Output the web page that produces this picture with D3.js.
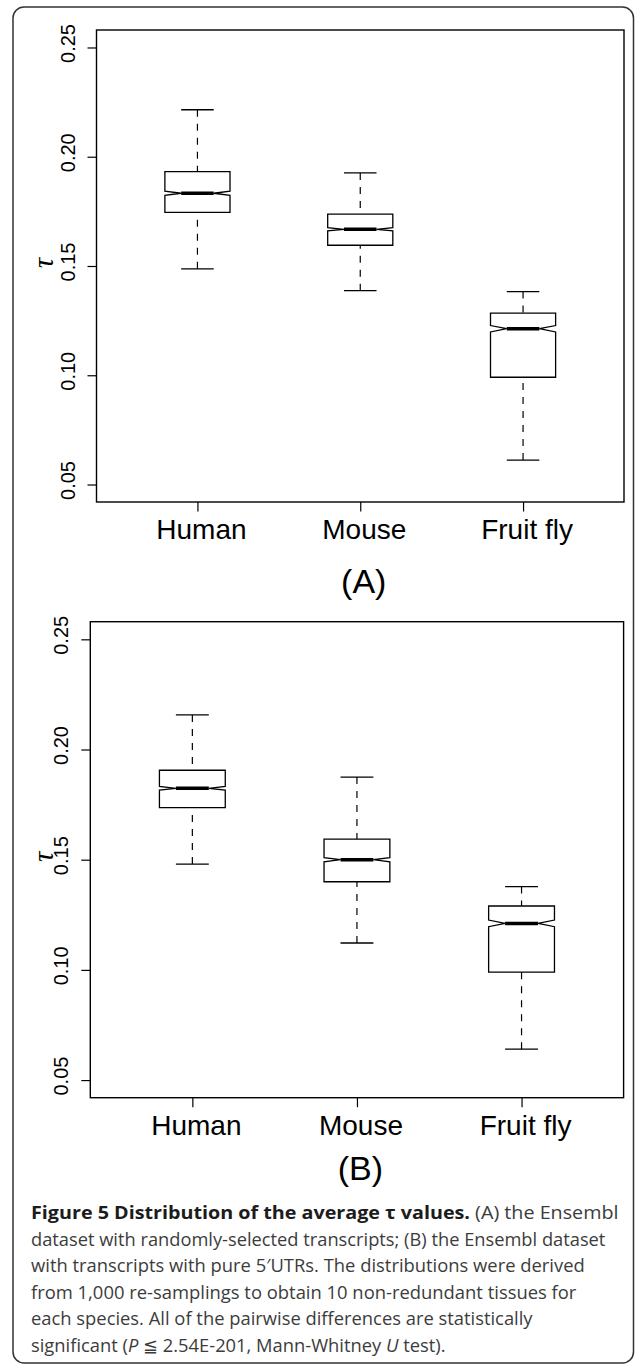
<!DOCTYPE html>
<html>
<head>
<meta charset="utf-8">
<script src="https://cdn.jsdelivr.net/npm/d3@7"></script>
<style>
  html, body { margin: 0; padding: 0; background: #fff; }
  svg { display: block; }
</style>
</head>
<body>
<div id="figure"></div>
<script>
const categories = ['Human', 'Mouse', 'Fruit fly'];
const panelLabels = ['(A)', '(B)'];
const yTicks = [0.05, 0.10, 0.15, 0.20, 0.25];
const yLimits = [0.05, 0.25];
const nResamplings = 1000;

// [lower whisker, Q1, median, Q3, upper whisker]
const statsA = [
  [0.1487, 0.1745, 0.1833, 0.1932, 0.2215],
  [0.1387, 0.1595, 0.1668, 0.1737, 0.1926],
  [0.0612, 0.0991, 0.1213, 0.1284, 0.1383]
];
const statsB = [
  [0.1480, 0.1736, 0.1824, 0.1906, 0.2157],
  [0.1122, 0.1400, 0.1500, 0.1593, 0.1875],
  [0.0640, 0.0990, 0.1211, 0.1290, 0.1378]
];

const captionLines = [
  [{ t: 'Figure 5 Distribution of the average \u03c4 values.', b: true }, { t: ' (A) the Ensembl' }],
  [{ t: 'dataset with randomly-selected transcripts; (B) the Ensembl dataset' }],
  [{ t: 'with transcripts with pure 5\u2032UTRs. The distributions were derived' }],
  [{ t: 'from 1,000 re-samplings to obtain 10 non-redundant tissues for' }],
  [{ t: 'each species. All of the pairwise differences are statistically' }],
  [{ t: 'significant (' }, { t: 'P', i: true }, { t: ' \u2266 2.54E-201, Mann-Whitney ' }, { t: 'U', i: true }, { t: ' test).' }]
];

const Figure = {
  width: 637,
  height: 1366,
  axisFont: '"Liberation Sans", Arial, Helvetica, sans-serif',
  captionFont: '"Open Sans", "Noto Sans", sans-serif',

  panels: [
    { stats: statsA, label: panelLabels[0], left: 96.5, right: 624, top: 30, bottom: 502, labelY: 593 },
    { stats: statsB, label: panelLabels[1], left: 90.3, right: 623.6, top: 621.7, bottom: 1097.7, labelY: 1180 }
  ],

  caption: { left: 31, firstBaseline: 1219, lineHeight: 26.5, widths: [588, 575, 554, 546, 502, 416] },

  renderPanel(svg, panel) {
    const pad = (yLimits[1] - yLimits[0]) * 0.04;
    const y = d3.scaleLinear()
      .domain([yLimits[0] - pad, yLimits[1] + pad])
      .range([panel.bottom, panel.top]);

    const x = d3.scalePoint()
      .domain(categories)
      .range([panel.left, panel.right])
      .padding(0.62);

    const step = x.step();
    const hw = step * 0.2;
    const nw = hw / 2;
    const sw = step * 0.1;

    const g = svg.append('g');

    // y axis
    const yAxis = g.append('g')
      .attr('transform', `translate(${panel.left},0)`)
      .call(d3.axisLeft(y).tickValues(yTicks).tickSize(9).tickFormat(d3.format('.2f')));
    yAxis.select('.domain').remove();
    yAxis.selectAll('line').attr('stroke', '#000').attr('stroke-width', 1.2);
    yAxis.selectAll('text')
      .attr('transform', 'rotate(-90)')
      .attr('x', 4.5)
      .attr('y', -22)
      .attr('dy', 0)
      .attr('text-anchor', 'middle')
      .attr('fill', '#000')
      .style('font-family', this.axisFont)
      .style('font-size', '20px');

    // x axis
    const xAxis = g.append('g')
      .attr('transform', `translate(0,${panel.bottom})`)
      .call(d3.axisBottom(x).tickSize(9.5));
    xAxis.select('.domain').remove();
    xAxis.selectAll('line').attr('stroke', '#000').attr('stroke-width', 1.2);
    xAxis.selectAll('text')
      .attr('x', 3.5)
      .attr('y', 37.3)
      .attr('dy', 0)
      .attr('fill', '#000')
      .style('font-family', this.axisFont)
      .style('font-size', '28px');

    // y title
    const midY = (panel.top + panel.bottom) / 2 - 3;
    g.append('text')
      .attr('transform', `translate(53,${midY}) rotate(-90)`)
      .attr('text-anchor', 'middle')
      .style('font-family', '"Liberation Serif", "Times New Roman", serif')
      .style('font-style', 'italic')
      .style('font-size', '29px')
      .text('\u03c4');

    // panel label
    g.append('text')
      .attr('x', (panel.left + panel.right) / 2 + 3.5)
      .attr('y', panel.labelY)
      .attr('text-anchor', 'middle')
      .style('font-family', this.axisFont)
      .style('font-size', '34px')
      .text(panel.label);

    const data = panel.stats.map((s, i) => ({ cat: categories[i], s }));
    const boxes = g.selectAll('.box').data(data).enter().append('g').attr('class', 'box');

    // whiskers
    boxes.selectAll('.whisker')
      .data(d => [[d.cat, d.s[0], d.s[1]], [d.cat, d.s[4], d.s[3]]])
      .enter()
      .append('line')
      .attr('x1', d => x(d[0]))
      .attr('x2', d => x(d[0]))
      .attr('y1', d => y(d[1]))
      .attr('y2', d => y(d[2]))
      .attr('stroke', '#000')
      .attr('stroke-width', 1.2)
      .attr('stroke-dasharray', '7 7');

    // staples
    boxes.selectAll('.staple')
      .data(d => [[d.cat, d.s[0]], [d.cat, d.s[4]]])
      .enter()
      .append('line')
      .attr('x1', d => x(d[0]) - sw)
      .attr('x2', d => x(d[0]) + sw)
      .attr('y1', d => y(d[1]))
      .attr('y2', d => y(d[1]))
      .attr('stroke', '#000')
      .attr('stroke-width', 1.3);

    // notched boxes
    boxes.append('path')
      .attr('d', d => {
        const cx = x(d.cat);
        const [, q1, med, q3] = d.s;
        const notch = 1.58 * (q3 - q1) / Math.sqrt(nResamplings);
        const pts = [
          [cx - hw, y(q3)], [cx + hw, y(q3)],
          [cx + hw, y(med + notch)], [cx + nw, y(med)], [cx + hw, y(med - notch)],
          [cx + hw, y(q1)], [cx - hw, y(q1)],
          [cx - hw, y(med - notch)], [cx - nw, y(med)], [cx - hw, y(med + notch)]
        ];
        return d3.line()(pts) + 'Z';
      })
      .attr('fill', '#fff')
      .attr('stroke', '#000')
      .attr('stroke-width', 1.3)
      .attr('stroke-linejoin', 'miter');

    // medians
    boxes.append('line')
      .attr('x1', d => x(d.cat) - nw)
      .attr('x2', d => x(d.cat) + nw)
      .attr('y1', d => y(d.s[2]))
      .attr('y2', d => y(d.s[2]))
      .attr('stroke', '#000')
      .attr('stroke-width', 3.5);

    // frame
    g.append('rect')
      .attr('x', panel.left)
      .attr('y', panel.top)
      .attr('width', panel.right - panel.left)
      .attr('height', panel.bottom - panel.top)
      .attr('fill', 'none')
      .attr('stroke', '#000')
      .attr('stroke-width', 1.4);
  },

  renderCaption(svg) {
    const c = this.caption;
    captionLines.forEach((parts, i) => {
      const text = svg.append('text')
        .attr('x', 0)
        .attr('y', 0)
        .style('font-family', this.captionFont)
        .style('font-size', '18.5px')
        .attr('fill', '#3c3c3c');

      parts.forEach(p => {
        text.append('tspan')
          .attr('font-weight', p.b ? 700 : 400)
          .attr('font-style', p.i ? 'italic' : 'normal')
          .attr('fill', p.b ? '#1c1c1c' : '#3c3c3c')
          .text(p.t);
      });

      const natural = text.node().getComputedTextLength();
      const sx = c.widths[i] / natural;
      text.attr('transform', `translate(${c.left},${c.firstBaseline + i * c.lineHeight}) scale(${sx},1)`);
    });
  },

  init() {
    const svg = d3.select('#figure')
      .append('svg')
      .attr('width', this.width)
      .attr('height', this.height);

    svg.append('rect')
      .attr('width', this.width)
      .attr('height', this.height)
      .attr('fill', '#fff');

    svg.append('rect')
      .attr('x', 13)
      .attr('y', 7)
      .attr('width', 620.5)
      .attr('height', 1356)
      .attr('rx', 11)
      .attr('fill', 'none')
      .attr('stroke', '#333')
      .attr('stroke-width', 1.5);

    this.panels.forEach(p => this.renderPanel(svg, p));
    this.renderCaption(svg);
  }
};

Figure.init();
</script>
</body>
</html>
